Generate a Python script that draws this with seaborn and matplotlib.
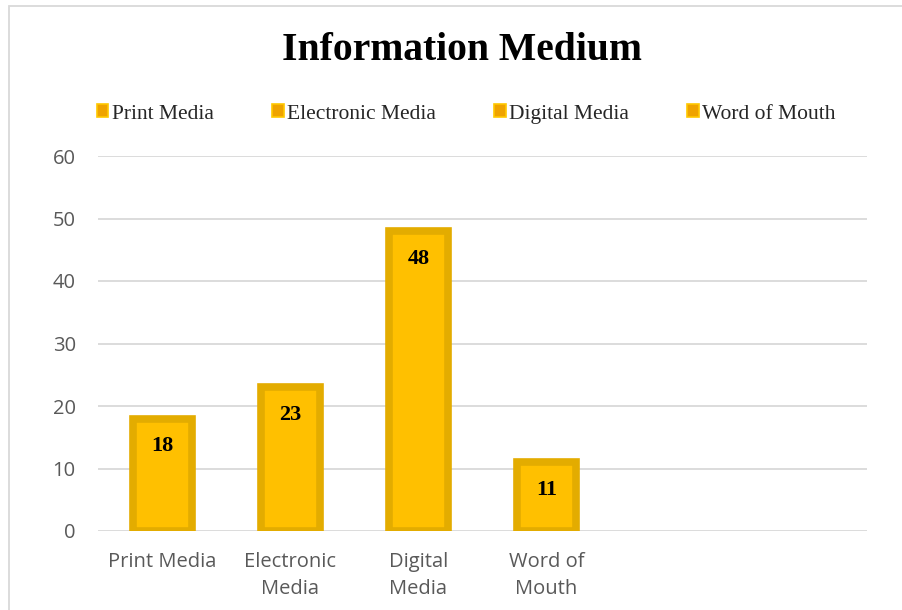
import pandas as pd
import numpy as np
import matplotlib.pyplot as plt
import seaborn as sns
from matplotlib.patches import Patch, Rectangle

categories = ['Print Media', 'Electronic Media', 'Digital Media', 'Word of Mouth']
tick_labels = ['Print Media', 'Electronic\nMedia', 'Digital\nMedia', 'Word of\nMouth']
values = [18, 23, 48, 11]
y_ticks = [0, 10, 20, 30, 40, 50, 60]

fill_color = '#FFC000'
edge_color = '#E3AC00'
grid_color = '#D9D9D9'
text_gray = '#595959'

df = pd.DataFrame({'medium': categories, 'count': values})

sns.set_theme(style='white')
plt.rcParams['font.family'] = ['Open Sans', 'DejaVu Sans']

fig = plt.figure(figsize=(9.03, 6.10), dpi=100)
ax = fig.add_axes([98 / 903, 1 - 531 / 610, (867 - 98) / 903, (531 - 156) / 610])

sns.barplot(data=df, x='medium', y='count', order=categories, color=fill_color,
            width=0.46, saturation=1, edgecolor=edge_color, linewidth=5.5, ax=ax, zorder=3)

# six category slots like the original chart, last two empty
ax.set_xlim(-0.5, 5.5)
ax.set_ylim(0, 60)
ax.set_yticks(y_ticks)
ax.set_xticks(range(len(categories)))
ax.set_xticklabels(tick_labels, linespacing=1.45)
ax.tick_params(axis='both', length=0, labelsize=14.5, labelcolor=text_gray)
ax.tick_params(axis='x', pad=15)
ax.tick_params(axis='y', pad=16)
ax.set_xlabel('')
ax.set_ylabel('')
ax.grid(axis='y', color=grid_color, linewidth=1.3, zorder=0)
for s in ax.spines.values():
    s.set_visible(False)

# value labels inside bar tops
for bar, v in zip(ax.patches, values):
    ax.annotate(str(v), (bar.get_x() + bar.get_width() / 2, v), xytext=(0, -20),
                textcoords='offset points', ha='center', va='center',
                fontsize=16, fontweight='bold', family='Liberation Serif', color='black', zorder=4)

fig.text(462 / 903, 1 - 50 / 610, 'Information Medium', ha='center', va='center',
         fontsize=28.5, fontweight='bold', family='Liberation Serif', color='black')

handles = [Patch(facecolor='#EFA300', edgecolor='#FFC800', linewidth=1.2, label=c) for c in categories]
fig.legend(handles=handles, loc='center', bbox_to_anchor=(466 / 903, 1 - 114 / 610), ncol=4,
           frameon=False, handlelength=0.55, handleheight=0.55, handletextpad=0.15,
           columnspacing=2.7, prop={'family': 'Liberation Serif', 'size': 15.5})

# outer chart border (top and left visible)
fig.patches.append(Rectangle((9 / 903, -0.05), 1.1, 1 - 6 / 610 + 0.05, transform=fig.transFigure,
                             fill=False, edgecolor='#D9D9D9', linewidth=1.3))

fig.savefig('out.png', dpi=100, facecolor='white')
